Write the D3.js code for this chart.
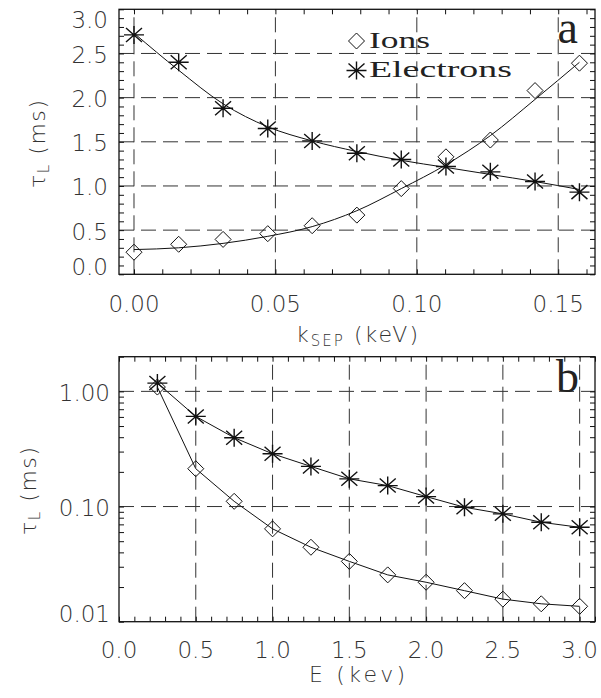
<!DOCTYPE html>
<html>
<head>
<meta charset="utf-8">
<script src="https://cdn.jsdelivr.net/npm/d3@7"></script>
<style>
  html, body { margin: 0; padding: 0; background: #fff; }
  svg { display: block; }
  .tick-label { font-family: "DejaVu Sans", sans-serif; font-size: 23px; fill: #333; font-weight: 200; }
  .axis-title { font-family: "DejaVu Sans", sans-serif; font-size: 22px; fill: #333; font-weight: 200; }
  .legend-text { font-family: "Liberation Serif", "DejaVu Serif", serif; font-size: 24px; fill: #222; }
  .panel-letter { font-family: "Liberation Serif", "DejaVu Serif", serif; font-size: 46px; fill: #222; }
</style>
</head>
<body>
<svg id="chart" width="601" height="698"></svg>
<script>
// ---- panel a: loss time versus separatrix energy ----
const kSep = [0, 0.0158, 0.0315, 0.0473, 0.0630, 0.0788, 0.0945, 0.1103, 0.1260, 0.1418, 0.1575];
const ionsK = [0.25, 0.34, 0.395, 0.46, 0.55, 0.67, 0.97, 1.33, 1.52, 2.08, 2.39];
const electronsK = [2.71, 2.40, 1.88, 1.65, 1.51, 1.37, 1.30, 1.22, 1.16, 1.05, 0.93];
const ionsKFit = [0.28, 0.30, 0.35, 0.43, 0.54, 0.72, 0.97, 1.24, 1.57, 1.98, 2.40];
const electronsKFit = [2.73, 2.31, 1.93, 1.67, 1.51, 1.39, 1.29, 1.21, 1.13, 1.05, 0.96];
const kTicks = [0, 0.05, 0.10, 0.15];
const kTickLabels = ["0.00", "0.05", "0.10", "0.15"];
const tauTicksA = [0, 0.5, 1.0, 1.5, 2.0, 2.5, 3.0];
const tauTickLabelsA = ["0.0", "0.5", "1.0", "1.5", "2.0", "2.5", "3.0"];

// ---- panel b: loss time versus energy ----
const energy = [0.25, 0.5, 0.75, 1.0, 1.25, 1.5, 1.75, 2.0, 2.25, 2.5, 2.75, 3.0];
const ionsE = [1.09, 0.213, 0.111, 0.064, 0.0443, 0.0334, 0.0255, 0.0220, 0.0186, 0.0157, 0.0143, 0.0136];
const electronsE = [1.18, 0.606, 0.396, 0.287, 0.223, 0.174, 0.152, 0.122, 0.0986, 0.0864, 0.073, 0.066];
const eTicks = [0, 0.5, 1.0, 1.5, 2.0, 2.5, 3.0];
const eTickLabels = ["0.0", "0.5", "1.0", "1.5", "2.0", "2.5", "3.0"];
const tauTicksB = [0.01, 0.1, 1.0];
const tauTickLabelsB = ["0.01", "0.10", "1.00"];

const legendLabels = ["Ions", "Electrons"];
const panelLetters = ["a", "b"];

const svg = d3.select("#chart");

// marker shapes as d3 symbol types
const asteriskType = {
  draw(ctx) {
    ctx.moveTo(-10, 0); ctx.lineTo(10, 0);
    ctx.moveTo(0, -9); ctx.lineTo(0, 9);
    ctx.moveTo(-8, -7); ctx.lineTo(8, 7);
    ctx.moveTo(-8, 7); ctx.lineTo(8, -7);
  }
};
const diamondType = {
  draw(ctx) {
    ctx.moveTo(0, -8); ctx.lineTo(8, 0); ctx.lineTo(0, 8); ctx.lineTo(-8, 0); ctx.closePath();
  }
};
const asterisk = d3.symbol().type(asteriskType)();
const diamond = d3.symbol().type(diamondType)();

function range(a, b, step) {
  const out = [];
  for (let v = a; v <= b + 1e-9; v += step) out.push(+v.toFixed(6));
  return out;
}

// horizontally stretch a text element so it spans the given width
function stretchTo(sel, width, anchorX) {
  const w = sel.node().getComputedTextLength();
  const s = width / w;
  sel.attr("transform", `translate(${anchorX},0) scale(${s},1) translate(${-anchorX},0)`);
}

function drawFrame(g, x, y, xMinor, yMinor) {
  const [x0, x1] = x.range();
  const [y0, y1] = y.range();
  // inward minor ticks on all four sides
  g.append("g").attr("transform", `translate(0,${y0})`)
    .call(d3.axisBottom(x).tickValues(xMinor).tickSize(-5).tickFormat(""))
    .call(s => s.select(".domain").remove());
  g.append("g").attr("transform", `translate(0,${y1})`)
    .call(d3.axisTop(x).tickValues(xMinor).tickSize(-5).tickFormat(""))
    .call(s => s.select(".domain").remove());
  g.append("g").attr("transform", `translate(${x0},0)`)
    .call(d3.axisLeft(y).tickValues(yMinor).tickSize(-5).tickFormat(""))
    .call(s => s.select(".domain").remove());
  g.append("g").attr("transform", `translate(${x1},0)`)
    .call(d3.axisRight(y).tickValues(yMinor).tickSize(-5).tickFormat(""))
    .call(s => s.select(".domain").remove());
  g.selectAll(".tick line").attr("stroke", "#111").attr("stroke-width", 1);
  g.append("rect")
    .attr("x", x0).attr("y", y1).attr("width", x1 - x0).attr("height", y0 - y1)
    .attr("fill", "none").attr("stroke", "#111").attr("stroke-width", 1.3);
}

function drawGrid(g, x, y, xGrid, yGrid) {
  const [x0, x1] = x.range();
  const [y0, y1] = y.range();
  const gg = g.append("g").attr("stroke", "#333").attr("stroke-width", 1)
    .attr("stroke-dasharray", "15,7").attr("fill", "none");
  gg.selectAll("line.v").data(xGrid).join("line").attr("class", "v")
    .attr("x1", d => x(d)).attr("x2", d => x(d)).attr("y1", y0).attr("y2", y1);
  gg.selectAll("line.h").data(yGrid).join("line").attr("class", "h")
    .attr("x1", x0).attr("x2", x1).attr("y1", d => y(d)).attr("y2", d => y(d));
}

function drawTickLabels(g, x, y, xt, xl, yt, yl, yLabelRight, xLabelBaseline) {
  const [y0, y1] = y.range();
  g.selectAll("text.xl").data(xt).join("text").attr("class", "tick-label xl")
    .attr("x", d => x(d)).attr("y", xLabelBaseline)
    .attr("text-anchor", "middle").text((d, i) => xl[i]);
  // labels at the ends are kept inside the frame height
  g.selectAll("text.yl").data(yt).join("text").attr("class", "tick-label yl")
    .attr("x", yLabelRight)
    .attr("y", d => Math.max(y1 + 19, Math.min(y(d) + 9.5, y0 + 0.6)))
    .attr("text-anchor", "end").text((d, i) => yl[i]);
}

function drawSeries(g, x, y, xs, ys, shape, fitYs) {
  const line = d3.line().x(d => x(d[0])).y(d => y(d[1]));
  if (fitYs) {
    g.append("path").datum(xs.map((v, i) => [v, fitYs[i]]))
      .attr("d", line.curve(d3.curveMonotoneX))
      .attr("fill", "none").attr("stroke", "#111").attr("stroke-width", 1);
  } else {
    g.append("path").datum(xs.map((v, i) => [v, ys[i]]))
      .attr("d", line)
      .attr("fill", "none").attr("stroke", "#111").attr("stroke-width", 1);
  }
  g.selectAll(null).data(xs.map((v, i) => [v, ys[i]])).join("path")
    .attr("d", shape)
    .attr("transform", d => `translate(${x(d[0])},${y(d[1])})`)
    .attr("fill", "none").attr("stroke", "#111")
    .attr("stroke-width", shape === asterisk ? 1.4 : 1);
}

// ---------- panel a ----------
const xA = d3.scaleLinear().domain([-0.0053, 0.163]).range([119, 595]);
const yA = d3.scaleLinear().domain([0, 3]).range([274.3, 9.3]);
const gA = svg.append("g");
drawGrid(gA, xA, yA, kTicks, tauTicksA.slice(1, -1));
drawFrame(gA, xA, yA, range(0, 0.16, 0.01), range(0, 3, 0.1));
drawSeries(gA, xA, yA, kSep, ionsK, diamond, ionsKFit);
drawSeries(gA, xA, yA, kSep, electronsK, asterisk, electronsKFit);
drawTickLabels(gA, xA, yA, kTicks, kTickLabels, tauTicksA, tauTickLabelsA, 108, 311.7);

// legend
gA.append("path").attr("d", diamond).attr("transform", "translate(356.5,41)")
  .attr("fill", "none").attr("stroke", "#111");
gA.append("path").attr("d", asterisk).attr("transform", "translate(356.5,70.5)")
  .attr("fill", "none").attr("stroke", "#111").attr("stroke-width", 1.4);
const leg1 = gA.append("text").attr("class", "legend-text").attr("x", 369).attr("y", 48).text(legendLabels[0]);
stretchTo(leg1, 61, 369);
const leg2 = gA.append("text").attr("class", "legend-text").attr("x", 369).attr("y", 77).text(legendLabels[1]);
stretchTo(leg2, 143, 369);
gA.append("text").attr("class", "panel-letter").attr("x", 578).attr("y", 43)
  .attr("text-anchor", "end").text(panelLetters[0]);

// axis titles
const titleA = gA.append("text").attr("class", "axis-title")
  .attr("x", 357).attr("y", 341.7).attr("text-anchor", "middle")
  .attr("textLength", 122).attr("lengthAdjust", "spacing");
titleA.append("tspan").text("k");
titleA.append("tspan").attr("font-size", 15).attr("dy", 4).text("SEP");
titleA.append("tspan").attr("dy", -4).text(" (keV)");

function yTitle(g, cx, cy) {
  const t = g.append("text").attr("class", "axis-title")
    .attr("transform", `translate(${cx},${cy}) rotate(-90)`).attr("text-anchor", "middle")
    .attr("textLength", 88).attr("lengthAdjust", "spacing");
  t.append("tspan").text("\u03C4");
  t.append("tspan").attr("font-size", 15).attr("dy", 4).text("L");
  t.append("tspan").attr("dy", -4).text("  (ms)");
}
yTitle(gA, 45, 144);

// ---------- panel b ----------
const xB = d3.scaleLinear().domain([0, 3.1]).range([119, 595]);
const yB = d3.scaleLog().domain([0.01, 2]).range([621.7, 356.7]);
const gB = svg.append("g");
drawGrid(gB, xB, yB, eTicks.slice(1), [0.1, 1.0]);
const logMinor = [0.01, 0.02, 0.03, 0.04, 0.05, 0.06, 0.07, 0.08, 0.09,
                  0.1, 0.2, 0.3, 0.4, 0.5, 0.6, 0.7, 0.8, 0.9, 1, 2];
drawFrame(gB, xB, yB, range(0, 3.1, 0.1), logMinor);
drawSeries(gB, xB, yB, energy, ionsE, diamond, null);
drawSeries(gB, xB, yB, energy, electronsE, asterisk, null);
drawTickLabels(gB, xB, yB, eTicks, eTickLabels, tauTicksB, tauTickLabelsB, 110, 658);
gB.append("text").attr("class", "panel-letter").attr("x", 579).attr("y", 392)
  .attr("text-anchor", "end").text(panelLetters[1]);
gB.append("text").attr("class", "axis-title")
  .attr("x", 357).attr("y", 682).attr("text-anchor", "middle")
  .attr("textLength", 96).attr("lengthAdjust", "spacing").text("E (kev)");
yTitle(gB, 36, 491);
</script>
</body>
</html>
